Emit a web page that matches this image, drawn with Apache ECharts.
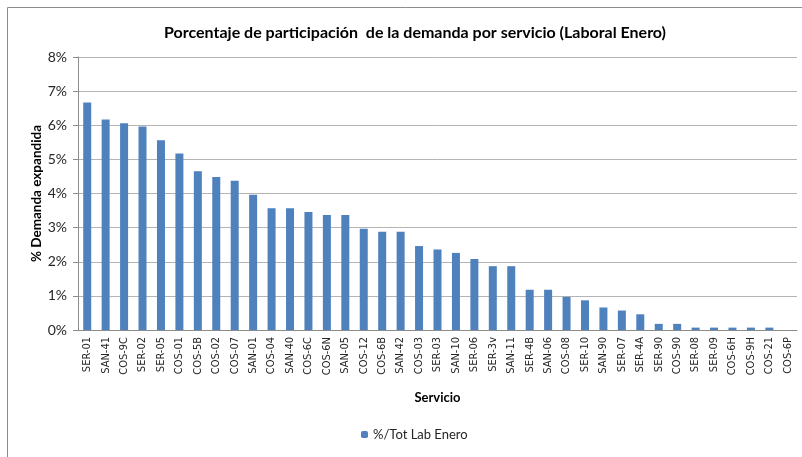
<!DOCTYPE html>
<html>
<head>
<meta charset="utf-8">
<script src="https://cdn.jsdelivr.net/npm/echarts@6/dist/echarts.min.js"></script>
<style>
  html, body { margin: 0; padding: 0; background: #fff; }
  #chart { width: 802px; height: 457px; }
</style>
</head>
<body>
<div id="chart"></div>
<script>
// values (percent of total demand)
const services = [
  'SER-01', 'SAN-41', 'COS-9C', 'SER-02', 'SER-05', 'COS-01', 'COS-5B', 'COS-02', 'COS-07', 'SAN-01',
  'COS-04', 'SAN-40', 'COS-6C', 'COS-6N', 'SAN-05', 'COS-12', 'COS-6B', 'SAN-42', 'COS-03', 'SER-03',
  'SAN-10', 'SER-06', 'SER-3v', 'SAN-11', 'SER-4B', 'SAN-06', 'COS-08', 'SER-10', 'SAN-90', 'SER-07',
  'SER-4A', 'SER-90', 'COS-90', 'SER-08', 'SER-09', 'COS-6H', 'COS-9H', 'COS-21', 'COS-6P'
]
const share = [
  6.67, 6.17, 6.06, 5.96, 5.56, 5.17, 4.65, 4.48, 4.37, 3.96,
  3.57, 3.57, 3.46, 3.37, 3.37, 2.97, 2.88, 2.88, 2.46, 2.36,
  2.26, 2.08, 1.87, 1.87, 1.18, 1.18, 0.97, 0.87, 0.66, 0.57,
  0.46, 0.18, 0.18, 0.07, 0.07, 0.07, 0.07, 0.07, 0
]
const yTicks = [0, 1, 2, 3, 4, 5, 6, 7, 8]

const chart = echarts.init(document.getElementById('chart'))
const textColor = '#262626'
const fontMain = 'Lato, "Liberation Sans", sans-serif'

chart.setOption({
  animation: false,
  backgroundColor: '#fff',
  title: {
    text: 'Porcentaje de participación  de la demanda por servicio (Laboral Enero)',
    left: 410,
    textAlign: 'center',
    top: 20,
    textStyle: { fontFamily: fontMain, fontSize: 16, fontWeight: 'bold', color: '#000' }
  },
  graphic: [{
    type: 'rect',
    shape: { x: 7.5, y: 7.5, width: 830, height: 480 },
    style: { fill: 'none', stroke: '#8c8c8c', lineWidth: 1 },
    silent: true
  }],
  legend: {
    bottom: 11,
    left: 356,
    itemWidth: 7,
    itemHeight: 7,
    itemGap: 10,
    textStyle: { fontFamily: fontMain, fontSize: 13, color: textColor },
    data: ['%/Tot Lab Enero']
  },
  grid: { left: 78, right: 5, top: 57, bottom: 127 },
  xAxis: {
    type: 'category',
    data: services,
    name: 'Servicio',
    nameLocation: 'middle',
    nameGap: 61,
    nameTextStyle: { fontFamily: fontMain, fontSize: 13, fontWeight: 'bold', color: '#000' },
    axisLine: { lineStyle: { color: '#8c8c8c' } },
    axisTick: { show: false },
    axisLabel: {
      interval: 0,
      rotate: 90,
      margin: 7,
      fontFamily: '"Liberation Sans Narrow", "DejaVu Sans Condensed", sans-serif',
      fontSize: 11,
      color: textColor
    }
  },
  yAxis: {
    type: 'value',
    min: yTicks[0],
    max: yTicks[yTicks.length - 1],
    interval: 1,
    name: '% Demanda expandida',
    nameLocation: 'middle',
    nameGap: 34,
    nameMoveOverlap: false,
    nameTextStyle: { fontFamily: fontMain, fontSize: 13.5, fontWeight: 'bold', color: '#000' },
    axisLine: { show: true, lineStyle: { color: '#8c8c8c' } },
    axisTick: { show: true, length: 5, lineStyle: { color: '#8c8c8c' } },
    axisLabel: {
      formatter: '{value}%',
      margin: 11,
      fontFamily: fontMain,
      fontSize: 14,
      color: textColor
    },
    splitLine: { lineStyle: { color: '#b4b4b4' } }
  },
  series: [{
    name: '%/Tot Lab Enero',
    type: 'bar',
    data: share,
    barWidth: 8,
    itemStyle: { color: '#4f81bd' }
  }]
})
</script>
</body>
</html>
